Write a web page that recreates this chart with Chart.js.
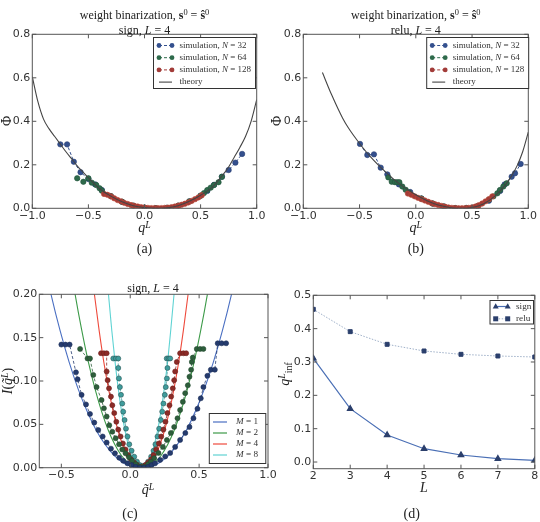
<!DOCTYPE html>
<html>
<head>
<meta charset="utf-8">
<script src="https://cdn.jsdelivr.net/npm/chart.js@4.4.1/dist/chart.umd.min.js"></script>
<style>
  body { margin:0; background:#fff; width:540px; height:522px; position:relative; overflow:hidden; }
  canvas { position:absolute; }
  .lbl { position:absolute; font-family:"Liberation Serif","DejaVu Serif",serif; color:#222; white-space:nowrap;
         transform:translate(-50%,-50%); font-size:12px; line-height:1; }
  .rot { transform:translate(-50%,-50%) rotate(-90deg); }
  .lbl sup { font-size:70%; vertical-align:0.45em; line-height:0; }
  .lbl sub { font-size:70%; vertical-align:-0.3em; line-height:0; }
  .big { font-size:14px; }
</style>
</head>
<body>
<canvas id="chartC" width="280" height="261" style="left:0;top:261px"></canvas>
<canvas id="chartA" width="270" height="261" style="left:0;top:0"></canvas>
<canvas id="chartB" width="270" height="261" style="left:270px;top:0"></canvas>
<canvas id="chartD" width="270" height="261" style="left:270px;top:261px"></canvas>

<div class="lbl" style="left:144.5px;top:15px">weight binarization, <b>s</b><sup>0</sup> = <b>ŝ</b><sup>0</sup></div>
<div class="lbl" style="left:144.5px;top:29.5px">sign, <i>L</i> = 4</div>
<div class="lbl big" style="left:144.5px;top:228px"><i>q</i><sup><i>L</i></sup></div>
<div class="lbl big rot" style="left:7px;top:121px">Φ</div>
<div class="lbl big" style="left:144.5px;top:249px">(a)</div>

<div class="lbl" style="left:415.8px;top:15px">weight binarization, <b>s</b><sup>0</sup> = <b>ŝ</b><sup>0</sup></div>
<div class="lbl" style="left:415.8px;top:29.5px">relu, <i>L</i> = 4</div>
<div class="lbl big" style="left:415.8px;top:228px"><i>q</i><sup><i>L</i></sup></div>
<div class="lbl big rot" style="left:277px;top:121px">Φ</div>
<div class="lbl big" style="left:415.8px;top:249px">(b)</div>

<div class="lbl" style="left:153px;top:287.5px">sign, <i>L</i> = 4</div>
<div class="lbl big" style="left:148px;top:490px"><i>q̃</i><sup><i>L</i></sup></div>
<div class="lbl big rot" style="left:8px;top:381px"><i>I</i>(<i>q̃</i><sup><i>L</i></sup>)</div>
<div class="lbl big" style="left:130px;top:514px">(c)</div>

<div class="lbl big" style="left:424px;top:488px"><i>L</i></div>
<div class="lbl big rot" style="left:285px;top:374px"><i>q</i><sup><i>L</i></sup><sub>inf</sub></div>
<div class="lbl big" style="left:411.7px;top:514px">(d)</div>

<script>
// ---- (a) weight binarization, sign ----
const thA_x = [-1.0,-0.95,-0.9,-0.85,-0.8,-0.75,-0.7,-0.65,-0.6,-0.55,-0.5,-0.4,-0.3,-0.2,-0.1,0.0,0.1,0.2,0.3,0.4,0.5,0.6,0.7,0.75,0.8,0.85,0.9,0.95,1.0];
const thA_y = [0.605,0.49,0.41,0.365,0.33,0.295,0.26,0.228,0.195,0.167,0.14,0.09,0.056,0.03,0.012,0.003,0.0,0.002,0.012,0.032,0.06,0.095,0.155,0.19,0.235,0.28,0.33,0.4,0.5];
const simA32_x = [-0.75,-0.69,-0.63,-0.57,-0.5,-0.44,-0.38,-0.3,-0.2,-0.1,0.0,0.1,0.2,0.3,0.4,0.5,0.56,0.62,0.69,0.75,0.81,0.87];
const simA32_y = [0.294,0.294,0.214,0.166,0.135,0.11,0.084,0.056,0.03,0.012,0.003,0.0,0.002,0.012,0.032,0.058,0.08,0.108,0.145,0.176,0.21,0.25];
const simA64_x = [-0.6,-0.545,-0.5,-0.47,-0.43,-0.4,-0.38,-0.3,-0.2,-0.1,0.0,0.1,0.2,0.3,0.4,0.5,0.53,0.56,0.59,0.62,0.66,0.69];
const simA64_y = [0.138,0.122,0.138,0.118,0.107,0.092,0.081,0.056,0.03,0.012,0.003,0.0,0.002,0.012,0.032,0.058,0.07,0.084,0.095,0.107,0.12,0.145];
const simA128_x = [-0.36,-0.33,-0.3,-0.27,-0.24,-0.21,-0.18,-0.15,-0.12,-0.09,-0.06,-0.03,0.0,0.03,0.06,0.09,0.12,0.15,0.18,0.21,0.24,0.27,0.3,0.33,0.36,0.39,0.42,0.45,0.48,0.51];
const simA128_y = [0.066,0.062,0.055,0.046,0.038,0.032,0.025,0.02,0.015,0.011,0.008,0.005,0.003,0.002,0.001,0.001,0.001,0.001,0.002,0.003,0.005,0.008,0.012,0.016,0.021,0.027,0.034,0.042,0.05,0.06];

// ---- (b) weight binarization, relu ----
const thB_x = [-0.83,-0.75,-0.65,-0.6,-0.5,-0.4,-0.3,-0.2,-0.1,0.0,0.1,0.2,0.3,0.4,0.5,0.6,0.7,0.8,0.85,0.9,0.95,1.0];
const thB_y = [0.624,0.524,0.414,0.37,0.298,0.235,0.182,0.135,0.095,0.062,0.035,0.015,0.004,0.0,0.004,0.02,0.055,0.11,0.148,0.195,0.26,0.35];
const simB32_x = [-0.496,-0.431,-0.372,-0.312,-0.253,-0.15,-0.05,0.05,0.15,0.25,0.35,0.45,0.55,0.65,0.75,0.79,0.852,0.882,0.932];
const simB32_y = [0.296,0.245,0.248,0.187,0.156,0.11,0.075,0.045,0.022,0.008,0.001,0.001,0.01,0.035,0.08,0.11,0.145,0.161,0.204];
const simB64_x = [-0.244,-0.214,-0.185,-0.164,-0.146,-0.12,-0.09,-0.06,0.05,0.15,0.25,0.35,0.45,0.55,0.65,0.69,0.725,0.748,0.778,0.808];
const simB64_y = [0.142,0.122,0.12,0.12,0.12,0.1,0.085,0.072,0.045,0.022,0.008,0.001,0.001,0.01,0.04,0.055,0.069,0.084,0.1,0.115];
const simB128_x = [-0.07,-0.04,-0.01,0.02,0.05,0.08,0.11,0.14,0.17,0.2,0.23,0.26,0.29,0.32,0.35,0.38,0.41,0.44,0.47,0.5,0.53,0.56,0.59,0.62,0.65,0.68];
const simB128_y = [0.068,0.062,0.055,0.048,0.042,0.036,0.03,0.024,0.019,0.015,0.011,0.007,0.004,0.002,0.001,0.0,0.0,0.001,0.002,0.004,0.008,0.014,0.022,0.032,0.042,0.055];

// ---- (c) sign, L = 4 ----
const thC_y  = [0.247,0.2,0.1586,0.122,0.0912,0.065,0.0435,0.0267,0.0141,0.0058,0.0013,0,0.0013,0.0058,0.0141,0.0267,0.0435,0.065,0.0912,0.122,0.1586,0.2,0.247];
const thC1_x = [-0.64,-0.575,-0.51,-0.444,-0.379,-0.313,-0.248,-0.182,-0.117,-0.052,0.015,0.08,0.146,0.211,0.277,0.342,0.408,0.473,0.539,0.604,0.67,0.735,0.80];
const thC2_x = [-0.448,-0.4,-0.352,-0.304,-0.256,-0.208,-0.16,-0.112,-0.064,-0.016,0.032,0.08,0.128,0.176,0.224,0.272,0.32,0.368,0.416,0.464,0.512,0.56,0.608];
const thC4_x = [-0.294,-0.26,-0.226,-0.192,-0.158,-0.124,-0.09,-0.056,-0.022,0.012,0.046,0.08,0.114,0.148,0.182,0.216,0.25,0.284,0.318,0.352,0.386,0.42,0.454];
const thC8_x = [-0.182,-0.158,-0.134,-0.11,-0.087,-0.063,-0.039,-0.015,0.009,0.032,0.056,0.08,0.104,0.128,0.151,0.175,0.199,0.223,0.247,0.271,0.294,0.318,0.342];
const simC1_x = [-0.5,-0.47,-0.44,-0.394,-0.382,-0.353,-0.321,-0.292,-0.261,-0.232,-0.2,-0.171,-0.14,-0.111,-0.08,-0.051,-0.02,0.01,0.04,0.07,0.1,0.13,0.155,0.18,0.217,0.254,0.29,0.326,0.362,0.4,0.43,0.459,0.488,0.512,0.531,0.56,0.585,0.614,0.635,0.664,0.696];
const simC1_y = [0.142,0.142,0.142,0.11,0.102,0.084,0.073,0.062,0.052,0.0435,0.036,0.029,0.022,0.0166,0.0115,0.008,0.005,0.003,0.001,0.0,0.0,0.001,0.003,0.005,0.009,0.013,0.017,0.024,0.032,0.04,0.047,0.057,0.068,0.08,0.093,0.106,0.113,0.113,0.1435,0.1435,0.1435];
const simC2_x = [-0.364,-0.31,-0.292,-0.268,-0.244,-0.208,-0.191,-0.171,-0.152,-0.13,-0.106,-0.081,-0.058,-0.034,-0.009,0.014,0.04,0.07,0.1,0.13,0.15,0.174,0.205,0.237,0.266,0.295,0.319,0.343,0.362,0.382,0.399,0.418,0.43,0.442,0.447,0.454,0.483,0.507,0.531];
const simC2_y = [0.137,0.126,0.126,0.107,0.093,0.078,0.0685,0.059,0.049,0.0415,0.034,0.027,0.021,0.0166,0.012,0.008,0.004,0.001,0.001,0.004,0.007,0.011,0.017,0.024,0.032,0.04,0.047,0.057,0.0665,0.076,0.086,0.095,0.105,0.113,0.122,0.127,0.137,0.137,0.137];
const simC4_x = [-0.212,-0.191,-0.171,-0.171,-0.164,-0.154,-0.14,-0.13,-0.116,-0.101,-0.087,-0.07,-0.053,-0.034,-0.014,0.005,0.029,0.05,0.08,0.11,0.13,0.152,0.169,0.188,0.208,0.225,0.241,0.256,0.27,0.285,0.297,0.309,0.319,0.326,0.338,0.362,0.386,0.406];
const simC4_y = [0.132,0.132,0.132,0.111,0.101,0.0915,0.082,0.072,0.063,0.053,0.044,0.036,0.028,0.021,0.0146,0.0097,0.0058,0.003,0.001,0.003,0.006,0.0097,0.0146,0.021,0.028,0.036,0.044,0.053,0.063,0.072,0.082,0.0915,0.101,0.111,0.122,0.132,0.132,0.132];
const simC8_x = [-0.123,-0.104,-0.087,-0.087,-0.082,-0.075,-0.067,-0.058,-0.051,-0.041,-0.031,-0.02,-0.007,0.01,0.029,0.049,0.07,0.09,0.11,0.13,0.152,0.169,0.183,0.198,0.21,0.222,0.232,0.241,0.251,0.258,0.266,0.27,0.265,0.278,0.29];
const simC8_y = [0.126,0.126,0.126,0.115,0.103,0.093,0.084,0.074,0.0646,0.055,0.045,0.036,0.027,0.0196,0.0127,0.007,0.003,0.002,0.003,0.007,0.0127,0.0196,0.027,0.036,0.045,0.055,0.0646,0.074,0.084,0.093,0.103,0.115,0.126,0.126,0.126];

// ---- (d) q_inf vs L ----
const depthL = [2,3,4,5,6,7,8];
const qSign = [0.311,0.16,0.081,0.04,0.021,0.01,0.005];
const qRelu = [0.458,0.391,0.353,0.333,0.323,0.318,0.315];

// ticks
const ticksAB_x = [-1.0,-0.5,0.0,0.5,1.0];
const ticksAB_y = [0.0,0.2,0.4,0.6,0.8];
const ticksC_x = [-0.5,0.0,0.5,1.0];
const ticksC_y = [0.0,0.05,0.10,0.15,0.20];
const ticksD_x = [2,3,4,5,6,7,8];
const ticksD_y = [0.0,0.1,0.2,0.3,0.4,0.5];

const simLabels = ['32','64','128'];
const mLabels = ['1','2','4','8'];

function pts(xs, ys) { return xs.map((x, i) => ({ x: x, y: ys[i] })); }
function minus(s) { return s.replace('-', '\u2212'); }

function axis(min, max, ticks, digits, size, isY) {
    return {
        type: 'linear', min: min, max: max,
        grid: { display: false, drawTicks: false }, border: { display: false },
        ticks: {
            font: { family: 'DejaVu Sans', size: 11 }, color: '#333', padding: isY ? 2 : 1,
            maxRotation: 0, autoSkip: false,
            callback: v => minus(Number(v).toFixed(digits))
        },
        afterBuildTicks: s => { s.ticks = ticks.map(v => ({ value: v })); },
        afterFit: s => { if (isY) s.width = size; else s.height = size; }
    };
}

// frame around the plot with small inward ticks, like matplotlib
const framePlugin = {
    id: 'frame',
    afterDatasetsDraw(chart) {
        const { ctx, chartArea: a, scales } = chart;
        ctx.save();
        ctx.strokeStyle = '#555';
        ctx.lineWidth = 1;
        ctx.beginPath();
        scales.x.ticks.forEach(t => {
            const p = scales.x.getPixelForValue(t.value);
            ctx.moveTo(p, a.bottom); ctx.lineTo(p, a.bottom - 4);
            ctx.moveTo(p, a.top); ctx.lineTo(p, a.top + 4);
        });
        scales.y.ticks.forEach(t => {
            const p = scales.y.getPixelForValue(t.value);
            ctx.moveTo(a.left, p); ctx.lineTo(a.left + 4, p);
            ctx.moveTo(a.right, p); ctx.lineTo(a.right - 4, p);
        });
        ctx.stroke();
        ctx.strokeRect(a.left, a.top, a.right - a.left, a.bottom - a.top);
        ctx.restore();
    }
};

function drawMarker(ctx, kind, x, y, color) {
    ctx.fillStyle = color;
    ctx.beginPath();
    if (kind === 'tri') {
        ctx.moveTo(x, y - 3.2); ctx.lineTo(x + 3, y + 2); ctx.lineTo(x - 3, y + 2); ctx.closePath();
    } else if (kind === 'square') {
        ctx.rect(x - 2.5, y - 2.5, 5, 5);
    } else {
        ctx.arc(x, y, 2.4, 0, Math.PI * 2);
    }
    ctx.fill();
}

// legend drawn inside the axes box
const boxLegend = {
    id: 'boxLegend',
    afterDraw(chart, args, opts) {
        if (!opts.items) return;
        const ctx = chart.ctx;
        const b = opts.box;
        ctx.save();
        ctx.fillStyle = '#fff';
        ctx.fillRect(b[0], b[1], b[2], b[3]);
        ctx.strokeStyle = '#333';
        ctx.lineWidth = 1;
        ctx.strokeRect(b[0], b[1], b[2], b[3]);
        opts.items.forEach((it, i) => {
            const y = b[1] + opts.first + i * opts.step;
            ctx.strokeStyle = it.line;
            ctx.lineWidth = it.width || 1;
            ctx.setLineDash(it.dash || []);
            ctx.beginPath();
            ctx.moveTo(opts.x1, y); ctx.lineTo(opts.x2, y);
            ctx.stroke();
            ctx.setLineDash([]);
            if (it.marker) {
                drawMarker(ctx, it.marker, opts.x1, y, it.color);
                drawMarker(ctx, it.marker, opts.x2, y, it.color);
            }
            let x = opts.tx;
            ctx.textBaseline = 'middle';
            ctx.fillStyle = '#333';
            it.text.forEach(seg => {
                ctx.font = (seg[1] ? 'italic ' : '') + opts.size + 'px "Liberation Serif", serif';
                ctx.fillText(seg[0], x, y);
                x += ctx.measureText(seg[0]).width;
            });
        });
        ctx.restore();
    }
};

Chart.register(framePlugin, boxLegend);

const simColors = ['#34508e', '#2e6a4b', '#a23c39'];
const simEdges = ['#263d70', '#22543a', '#c04a36'];

function simSet(xs, ys, i, order) {
    return {
        data: pts(xs, ys), showLine: true, order: order,
        borderColor: simColors[i], borderWidth: 1, borderDash: [3, 2],
        pointRadius: 2.7, pointBackgroundColor: simColors[i], pointBorderColor: simEdges[i], pointBorderWidth: 0.6,
        clip: 0
    };
}
function theorySet(xs, ys, color, order) {
    return {
        data: pts(xs, ys), showLine: true, order: order,
        borderColor: color, borderWidth: 1.1, pointRadius: 0,
        cubicInterpolationMode: 'monotone', clip: 0
    };
}

function simLegend(x0) {
    return {
        box: [x0, 37.5, 102, 51], first: 8, step: 12.2, x1: x0 + 5.5, x2: x0 + 18.5, tx: x0 + 26, size: 9,
        items: [
            { text: [['simulation, ', 0], ['N', 1], [' = ' + simLabels[0], 0]], line: simColors[0], color: simColors[0], marker: 'dot', dash: [3, 2] },
            { text: [['simulation, ', 0], ['N', 1], [' = ' + simLabels[1], 0]], line: simColors[1], color: simColors[1], marker: 'dot', dash: [3, 2] },
            { text: [['simulation, ', 0], ['N', 1], [' = ' + simLabels[2], 0]], line: simColors[2], color: simColors[2], marker: 'dot', dash: [3, 2] },
            { text: [['theory', 0]], line: '#444', width: 1.1 }
        ]
    };
}

function baseOptions(xAxis, yAxis, pad, legend) {
    return {
        responsive: false, animation: false, devicePixelRatio: 1,
        layout: { padding: pad },
        scales: { x: xAxis, y: yAxis },
        plugins: { legend: { display: false }, tooltip: { enabled: false }, boxLegend: legend }
    };
}

// (a)
new Chart(document.getElementById('chartA'), {
    type: 'scatter',
    data: { datasets: [
        theorySet(thA_x, thA_y, '#444', 0),
        simSet(simA128_x, simA128_y, 2, 1),
        simSet(simA64_x, simA64_y, 1, 2),
        simSet(simA32_x, simA32_y, 0, 3)
    ] },
    options: baseOptions(
        axis(-1, 1, ticksAB_x, 1, 20, false),
        axis(0, 0.8, ticksAB_y, 1, 32.3, true),
        { left: 0, top: 34.3, right: 13.3, bottom: 32.7 },
        simLegend(153.5))
});

// (b)
new Chart(document.getElementById('chartB'), {
    type: 'scatter',
    data: { datasets: [
        theorySet(thB_x, thB_y, '#444', 0),
        simSet(simB128_x, simB128_y, 2, 1),
        simSet(simB64_x, simB64_y, 1, 2),
        simSet(simB32_x, simB32_y, 0, 3)
    ] },
    options: baseOptions(
        axis(-1, 1, ticksAB_x, 1, 20, false),
        axis(0, 0.8, ticksAB_y, 1, 33.3, true),
        { left: 0, top: 34.3, right: 11.7, bottom: 32.7 },
        simLegend(156.7))
});

// (c)
const mLine = ['#4a6fc2', '#3c9a48', '#ee4a3c', '#5fd3d3'];
const mDot = ['#253b6e', '#2d5e3b', '#8c2b27', '#3e9c9c'];
const mEdge = ['#1d2f58', '#234a2f', '#6d201c', '#2a5555'];
const simCx = [simC1_x, simC2_x, simC4_x, simC8_x];
const simCy = [simC1_y, simC2_y, simC4_y, simC8_y];
const thCx = [thC1_x, thC2_x, thC4_x, thC8_x];
const cSets = [];
for (let i = 0; i < 4; i++) {
    cSets.push({
        data: pts(simCx[i], simCy[i]), showLine: true, order: i,
        borderColor: mDot[i], borderWidth: 0.8, borderDash: [3, 2],
        pointRadius: 2.5, pointBackgroundColor: mDot[i], pointBorderColor: mEdge[i], pointBorderWidth: 0.6, clip: 0
    });
}
for (let i = 0; i < 4; i++) cSets.push(theorySet(thCx[i], thC_y, mLine[i], 10 + i));

new Chart(document.getElementById('chartC'), {
    type: 'scatter',
    data: { datasets: cSets },
    options: baseOptions(
        axis(-0.66, 1, ticksC_x, 1, 20, false),
        axis(0, 0.2, ticksC_y, 2, 39.3, true),
        { left: 0, top: 33.3, right: 12, bottom: 34.3 },
        {
            box: [209.3, 152.5, 56.5, 50], first: 8.5, step: 11, x1: 213, x2: 227, tx: 236, size: 9.2,
            items: mLabels.map((m, i) => ({ text: [['M', 1], [' = ' + m, 0]], line: mLine[i], width: 1.2 }))
        })
});

// (d)
new Chart(document.getElementById('chartD'), {
    type: 'scatter',
    data: { datasets: [
        {
            data: pts(depthL, qSign), showLine: true, order: 0,
            borderColor: '#4a6fb5', borderWidth: 1.2,
            pointStyle: 'triangle', pointRadius: 3.2, pointBackgroundColor: '#2b3f6c', pointBorderColor: '#2b3f6c', clip: 0
        },
        {
            data: pts(depthL, qRelu), showLine: true, order: 1,
            borderColor: '#9fb0c8', borderWidth: 1, borderDash: [1.5, 1.5],
            pointStyle: 'rect', pointRadius: 2.8, pointBackgroundColor: '#2b3f6c', pointBorderColor: '#2b3f6c', clip: 0
        }
    ] },
    options: baseOptions(
        axis(2, 8, ticksD_x, 0, 20, false),
        axis(-0.02, 0.5, ticksD_y, 1, 43.3, true),
        { left: 0, top: 34.3, right: 2.3, bottom: 33.3 },
        {
            box: [220, 39.5, 43.5, 23.5], first: 6, step: 12.3, x1: 225.7, x2: 237.7, tx: 246, size: 9.2,
            items: [
                { text: [['sign', 0]], line: '#4a6fb5', width: 1.2, color: '#2b3f6c', marker: 'tri' },
                { text: [['relu', 0]], line: '#9fb0c8', dash: [1.5, 1.5], color: '#2b3f6c', marker: 'square' }
            ]
        })
});
</script>
</body>
</html>
